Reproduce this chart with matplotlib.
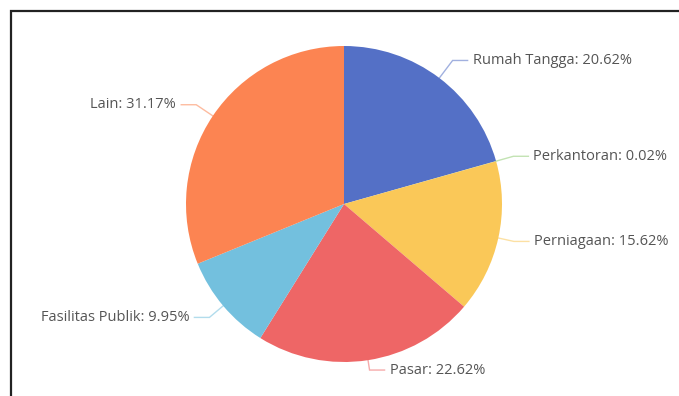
import matplotlib.pyplot as plt
import numpy as np

# data
labels = ["Rumah Tangga", "Perkantoran", "Perniagaan", "Pasar", "Fasilitas Publik", "Lain"]
values = [20.62, 0.02, 15.62, 22.62, 9.95, 31.17]
colors = ["#5470c6", "#91cc75", "#fac858", "#ee6666", "#73c0de", "#fc8452"]

W, H = 679, 396
fig = plt.figure(figsize=(W / 100, H / 100), dpi=100)
ax = fig.add_axes([0, 0, 1, 1])

cx, cy, r = 344, H - 204, 158
wedges, _ = ax.pie(values, colors=colors, startangle=90, counterclock=False,
                   center=(cx, cy), radius=r, frame=True,
                   wedgeprops=dict(linewidth=0))
ax.set_xlim(0, W)
ax.set_ylim(0, H)
ax.set_aspect("equal")
ax.axis("off")

# label line lengths (first leg, radial) roughly as echarts laid them out
len1 = [22, 18, 16, 10, 18, 20]
len2 = 15
for w, lab, v, c, l1 in zip(wedges, labels, values, colors, len1):
    ang = np.deg2rad((w.theta1 + w.theta2) / 2)
    x0, y0 = cx + r * np.cos(ang), cy + r * np.sin(ang)
    x1, y1 = cx + (r + l1) * np.cos(ang), cy + (r + l1) * np.sin(ang)
    side = 1 if np.cos(ang) >= 0 else -1
    x2 = x1 + side * len2
    ax.plot([x0, x1, x2], [y0, y1, y1], color=c, lw=1, alpha=0.55,
            solid_joinstyle="miter")
    ax.text(x2 + side * 5, y1, f"{lab}: {v:.2f}%", ha="left" if side > 0 else "right",
            va="center", fontsize=10.5, color="#555555", family="Open Sans")

# outer frame of the screenshot
ax.plot([11, 11, W], [0, H - 11, H - 11], color="#222222", lw=1.6,
        solid_joinstyle="miter")

fig.savefig("out.png", dpi=100)
